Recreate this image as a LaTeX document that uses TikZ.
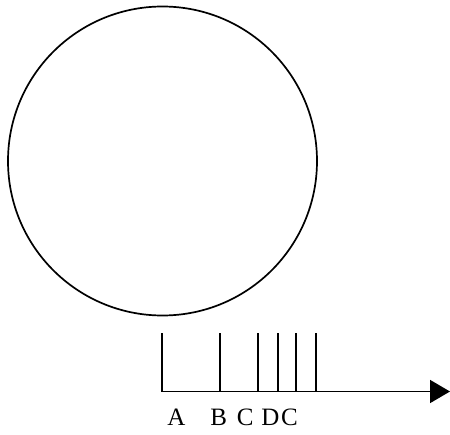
\documentclass[tikz,border=0pt]{standalone}
\usepackage{fontspec}
\setmainfont{Liberation Serif}
\usetikzlibrary{positioning,arrows.meta}
\tikzset{
    >={Triangle[length=20pt,width=23pt]},
    every edge/.style={draw,line width=1.7pt},
    tag/.style={inner sep=0pt,anchor=base west,font=\fontsize{25}{27}\selectfont}
}

\begin{document}
\begin{tikzpicture}[x=1pt,y=-1pt,line width=1.7pt,
                    wheel/.style={circle,draw,line width=1.7pt,minimum size=309pt,inner sep=0pt}]
\useasboundingbox (0,0) rectangle (450,434);

% Circle
\node[wheel] (w) at (162.5,161) {};

% Axis
\coordinate (o) at (162,391.5);
\coordinate (e) at (450,391.5);
\draw[->] (o) -- (e);

% Ticks
\coordinate (t1) at (162,333);
\coordinate (t2) at (220,333);
\coordinate (b2) at (220,391.5);
\coordinate (t3) at (258,333);
\coordinate (b3) at (258,391.5);
\coordinate (t4) at (278,333);
\coordinate (b4) at (278,391.5);
\coordinate (t5) at (296,333);
\coordinate (b5) at (296,391.5);
\coordinate (t6) at (316,333);
\coordinate (b6) at (316,391.5);
\path (t1) edge (o);
\path (t2) edge (b2);
\path (t3) edge (b3);
\path (t4) edge (b4);
\path (t5) edge (b5);
\path (t6) edge (b6);

% Labels
\node[tag] (la) at (166.5,425.5) {A};
\node[tag] (lb) at (209.5,425.5) {B};
\node[tag] (lc) at (236,425.5) {C};
\node[tag] (ld) at (260.5,425.5) {D};
\node[tag,right=0pt of ld.base east,anchor=base west] (le) {C};

\end{tikzpicture}
\end{document}
